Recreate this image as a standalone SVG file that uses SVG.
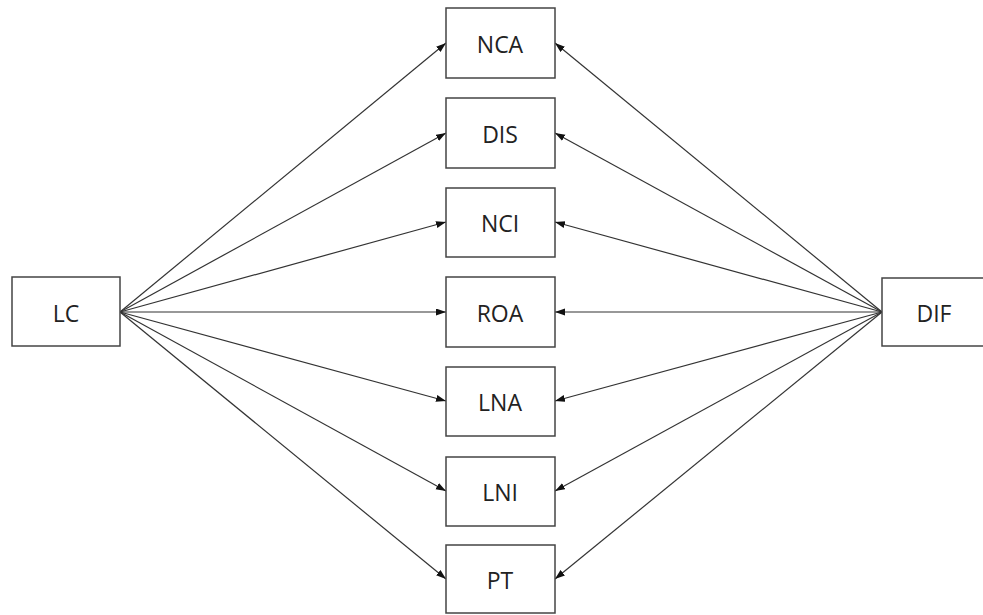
<svg xmlns="http://www.w3.org/2000/svg" width="983" height="615" viewBox="0 0 983 615">
<style>
.box{fill:#fff;stroke:#444;stroke-width:1.5}
.lbl{font-family:"Open Sans","Liberation Sans",sans-serif;font-size:23px;fill:#222;text-anchor:middle;dominant-baseline:central}
.edge{stroke:#333;stroke-width:1.2;fill:none;marker-end:url(#ah)}
</style>
<defs>
<marker id="ah" markerUnits="userSpaceOnUse" markerWidth="11" markerHeight="8" refX="10" refY="3.5" orient="auto">
<path d="M0,0 L10,3.5 L0,7 z" fill="#111"/>
</marker>
</defs>
<rect width="983" height="615" fill="#fff"/>
<g id="connectors">
<line class="edge" x1="120" y1="312" x2="446" y2="43"/>
<line class="edge" x1="120" y1="312" x2="446" y2="133"/>
<line class="edge" x1="120" y1="312" x2="446" y2="222"/>
<line class="edge" x1="120" y1="312" x2="446" y2="312"/>
<line class="edge" x1="120" y1="312" x2="446" y2="401"/>
<line class="edge" x1="120" y1="312" x2="446" y2="491"/>
<line class="edge" x1="120" y1="312" x2="446" y2="579"/>
<line class="edge" x1="882" y1="312" x2="555" y2="43"/>
<line class="edge" x1="882" y1="312" x2="555" y2="133"/>
<line class="edge" x1="882" y1="312" x2="555" y2="222"/>
<line class="edge" x1="882" y1="312" x2="555" y2="312"/>
<line class="edge" x1="882" y1="312" x2="555" y2="401"/>
<line class="edge" x1="882" y1="312" x2="555" y2="491"/>
<line class="edge" x1="882" y1="312" x2="555" y2="579"/>
</g>
<g id="LC"><rect class="box" x="12" y="277" width="108" height="69"/><text class="lbl" x="66" y="313">LC</text></g>
<g id="DIF"><rect class="box" x="882" y="278" width="109" height="68"/><text class="lbl" x="934" y="313">DIF</text></g>
<g id="NCA"><rect class="box" x="446" y="8" width="109" height="70"/><text class="lbl" x="500" y="44">NCA</text></g>
<g id="DIS"><rect class="box" x="446" y="98" width="109" height="70"/><text class="lbl" x="500" y="134">DIS</text></g>
<g id="NCI"><rect class="box" x="446" y="188" width="109" height="69"/><text class="lbl" x="500" y="223">NCI</text></g>
<g id="ROA"><rect class="box" x="446" y="277" width="109" height="70"/><text class="lbl" x="500" y="313">ROA</text></g>
<g id="LNA"><rect class="box" x="446" y="367" width="109" height="69"/><text class="lbl" x="500" y="402">LNA</text></g>
<g id="LNI"><rect class="box" x="446" y="457" width="109" height="69"/><text class="lbl" x="500" y="492">LNI</text></g>
<g id="PT"><rect class="box" x="446" y="545" width="109" height="68"/><text class="lbl" x="500" y="580">PT</text></g>
</svg>
